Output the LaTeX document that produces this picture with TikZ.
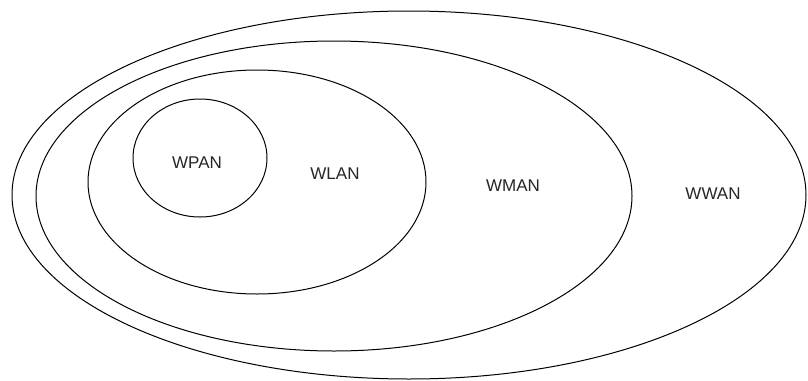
\documentclass[tikz,border=0pt]{standalone}
\usepackage{fontspec}
\setmainfont{Liberation Sans}
\begin{document}
\begin{tikzpicture}[x=1pt,y=-1pt,
  ring/.style={draw=black,line width=1pt},
  lbl/.style={font=\fontsize{17}{20}\selectfont,text=black!85}]
\useasboundingbox[fill=white] (0,0) rectangle (808,380);
\draw[ring] (409,195) ellipse [x radius=397, y radius=184];
\draw[ring] (334,196) ellipse [x radius=298, y radius=155];
\draw[ring] (257,182) ellipse [x radius=169, y radius=112];
\draw[ring] (200,158) ellipse [x radius=67, y radius=59];
\node[lbl] (wpan) at (197,163) {WPAN};
\node[lbl] (wlan) at (335,174) {WLAN};
\node[lbl] (wman) at (513,186) {WMAN};
\node[lbl] (wwan) at (713,194) {WWAN};
\end{tikzpicture}
\end{document}
